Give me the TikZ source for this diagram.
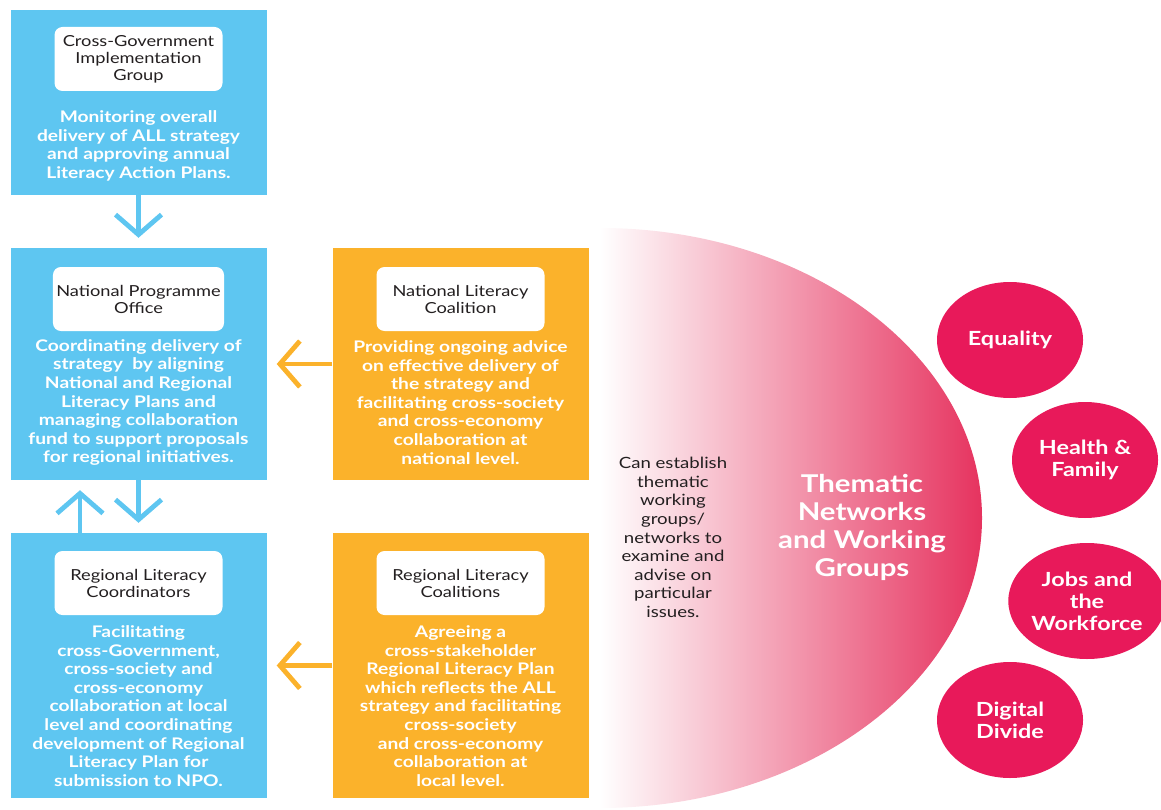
\documentclass[tikz,border=0pt]{standalone}
\usepackage{fontspec}
\setmainfont{Lato}[FakeStretch=1.2]
\usepackage{tikz}
\usetikzlibrary{positioning,arrows.meta,shapes.geometric}

\definecolor{skyblue}{HTML}{5EC6F1}
\definecolor{amber}{HTML}{FBB22B}
\definecolor{crimson}{HTML}{E8195A}
\definecolor{rosered}{HTML}{E6335F}
\definecolor{inkdark}{HTML}{231F20}

\begin{document}
\begin{tikzpicture}[x=1pt,y=-1pt,
    panel/.style={minimum width=256pt, inner sep=0pt},
    bluepanel/.style={panel, fill=skyblue},
    orangepanel/.style={panel, fill=amber},
    titlebox/.style={fill=white, rounded corners=8pt, minimum width=168pt, minimum height=64pt,
        align=center, text=inkdark, font=\fontsize{15.2}{17}\selectfont},
    bodytext/.style={align=center, text=white, font=\bfseries\fontsize{16}{18.6}\selectfont},
    theme/.style={ellipse, fill=crimson, minimum width=146pt, minimum height=116pt, inner sep=0pt,
        align=center, text=white, font=\bfseries\fontsize{19.5}{22}\selectfont},
    bluearrow/.style={draw=skyblue, line width=4.8pt, -{Straight Barb[length=20pt,width=46pt]}, shorten >=10pt},
    orangearrow/.style={draw=amber, line width=4.8pt, -{Straight Barb[length=20pt,width=46pt]}, shorten >=10pt}]
    \useasboundingbox (0,0) rectangle (1161,810);
    % half disc with the gradient
    \shade[left color=white, right color=rosered]
        (600,228) arc[start angle=-90, end angle=90, x radius=382, y radius=290] -- cycle;
    % left column: government
    \node[bluepanel, minimum height=185pt] (cgig) at (138.5,102.5) {};
    \node[titlebox, below=17pt of cgig.north] (cgigT) {Cross-Government\\Implementation\\Group};
    \node[bodytext] (cgigB) at (138.5,146) {Monitoring overall\\delivery of ALL strategy\\and approving annual\\Literacy Action Plans.};
    \node[bluepanel, minimum height=232pt] (npo) at (138.5,364) {};
    \node[titlebox, below=19pt of npo.north] (npoT) {National Programme\\Office};
    \node[bodytext] (npoB) at (138.5,402.5) {Coordinating delivery of\\strategy \ by aligning\\National and Regional\\Literacy Plans and\\managing collaboration\\fund to support proposals\\for regional initiatives.};
    \node[bluepanel, minimum height=265pt] (rlc) at (138.5,665.5) {};
    \node[titlebox, below=18pt of rlc.north] (rlcT) {Regional Literacy\\Coordinators};
    \node[bodytext] (rlcB) at (138.5,706) {Facilitating\\cross-Government,\\cross-society and\\cross-economy\\collaboration at local\\level and coordinating\\development of Regional\\Literacy Plan for\\submission to NPO.};
    % middle column: coalitions
    \node[orangepanel, minimum height=232pt] (nlc) at (460.5,364) {};
    \node[titlebox, below=19pt of nlc.north] (nlcT) {National Literacy\\Coalition};
    \node[bodytext] (nlcB) at (460.5,402.5) {Providing ongoing advice\\on effective delivery of\\the strategy and\\facilitating cross-society\\and cross-economy\\collaboration at\\national level.};
    \node[orangepanel, minimum height=265pt] (rlcs) at (460.5,665.5) {};
    \node[titlebox, below=18pt of rlcs.north] (rlcsT) {Regional Literacy\\Coalitions};
    \node[bodytext] (rlcsB) at (460.5,706) {Agreeing a\\cross-stakeholder\\Regional Literacy Plan\\which reflects the ALL\\strategy and facilitating\\cross-society\\and cross-economy\\collaboration at\\local level.};
    % thematic networks
    \node[align=center, text=inkdark, font=\fontsize{15.5}{18.6}\selectfont] (note) at (673,537.5) {Can establish\\thematic\\working\\groups/\\networks to\\examine and\\advise on\\particular\\issues.};
    \node[align=center, text=white, font=\bfseries\fontsize{24.5}{28}\selectfont] (tnwg) at (862,527) {Thematic\\Networks\\and Working\\Groups};
    \node[theme] (equality) at (1010,340) {Equality};
    \node[theme] (health) at (1085,460) {Health \&\\Family};
    \node[theme] (jobs) at (1087,601) {Jobs and\\the\\Workforce};
    \node[theme] (digital) at (1010,720) {Digital\\Divide};
    % arrows
    \draw[bluearrow] (cgig) -- (npo);
    \draw[bluearrow] (npo) -- (rlc);
    \draw[bluearrow] ([xshift=-58.5pt]rlc.north) -- ([xshift=-58.5pt]npo.south);
    \draw[orangearrow] (nlc) -- (npo);
    \draw[orangearrow] (rlcs) -- (rlc);
\end{tikzpicture}
\end{document}
